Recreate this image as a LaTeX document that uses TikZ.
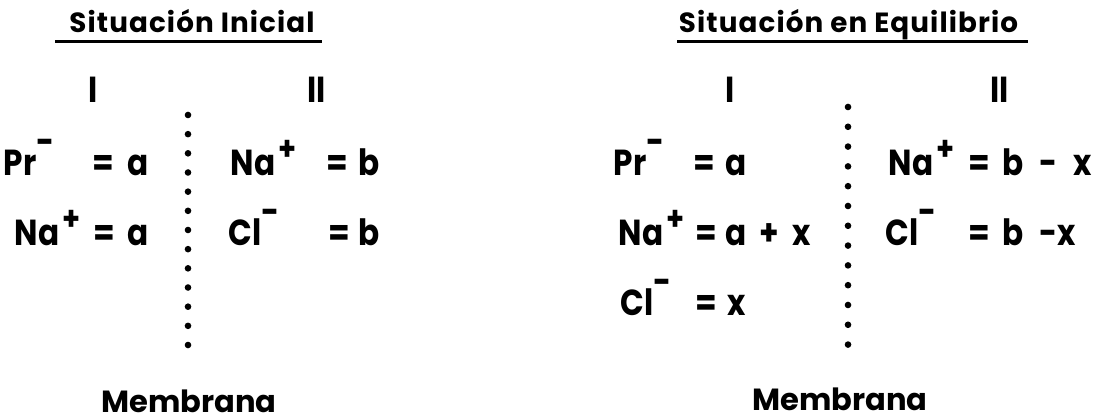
\documentclass[tikz,border=0pt]{standalone}
\usepackage{fontspec}
\setmainfont{Poppins}
\usepackage{tikz}
\usetikzlibrary{positioning}
\newcommand{\ionp}{\hspace{0.3mm}\raisebox{0.42em}{\fontsize{9.5}{9.5}\selectfont +}}
\newcommand{\ionm}{\raisebox{0.6em}{-}}

\begin{document}
\begin{tikzpicture}[x=1cm, y=1cm,
  ttl/.style={font=\fontsize{7.9}{10}\selectfont\bfseries\addfontfeatures{LetterSpace=4}, anchor=base, inner sep=0pt},
  ion/.style={font=\fontsize{10.3}{12}\selectfont\bfseries\addfontfeatures{FakeStretch=0.86}, anchor=base west, inner sep=0pt},
  memb/.style={font=\fontsize{8.7}{11}\selectfont\bfseries, anchor=base, inner sep=0pt},
  uline/.style={line width=0.9pt}]
\useasboundingbox (0,0) rectangle (11.18,4.20);
% situacion inicial
\node[ttl] (ini-title) at (1.92,3.87) {Situación Inicial};
\draw[uline] (0.55,3.785) -- (3.22,3.785);
\node[ion] (ini-I) at (0.88,3.17) {I};
\node[ion] (ini-II) at (3.07,3.17) {II};
\node[ion] (ini-pr) at (0.03,2.44) {Pr\ionm};
\node[ion] (ini-pr-eq) at (0.92,2.44) {=};
\node[ion] (ini-pr-val) at (1.27,2.44) {a};
\node[ion] (ini-na) at (0.14,1.74) {Na\ionp};
\node[ion] (ini-na-eq) at (0.93,1.74) {=};
\node[ion] (ini-na-val) at (1.27,1.74) {a};
\node[ion] (ini-na2) at (2.30,2.44) {Na\ionp};
\node[ion] (ini-na2-eq) at (3.26,2.44) {=};
\node[ion] (ini-na2-val) at (3.58,2.44) {b};
\node[ion] (ini-cl) at (2.28,1.74) {Cl\ionm};
\node[ion] (ini-cl-eq) at (3.28,1.74) {=};
\node[ion] (ini-cl-val) at (3.58,1.74) {b};
\foreach \k in {0,...,12}
  \fill (1.88,{3.05-\k*0.1917}) circle (0.033);
\node[memb] (ini-memb) at (1.89,0.07) {Membrana};
% situacion en equilibrio
\node[ttl] (eq-title) at (8.485,3.87) {Situación en Equilibrio};
\draw[uline] (6.77,3.785) -- (10.28,3.785);
\node[ion] (eq-I) at (7.25,3.17) {I};
\node[ion] (eq-II) at (9.90,3.17) {II};
\node[ion] (eq-pr) at (6.13,2.44) {Pr\ionm};
\node[ion] (eq-pr-eq) at (6.93,2.44) {=};
\node[ion] (eq-pr-val) at (7.25,2.44) {a};
\node[ion] (eq-na) at (6.18,1.74) {Na\ionp};
\node[ion] (eq-na-eq) at (6.95,1.74) {=};
\node[ion] (eq-na-val) at (7.25,1.74) {a\hspace{1.3mm}+\hspace{1.3mm}x};
\node[ion] (eq-cl) at (6.20,1.04) {Cl\ionm};
\node[ion] (eq-cl-eq) at (6.95,1.04) {=};
\node[ion] (eq-cl-val) at (7.27,1.04) {x};
\node[ion] (eq-na2) at (8.88,2.44) {Na\ionp};
\node[ion] (eq-na2-eq) at (9.68,2.44) {=};
\node[ion] (eq-na2-val) at (10.02,2.44) {b\hspace{1.6mm}-\hspace{1.6mm}x};
\node[ion] (eq-cl2) at (8.85,1.74) {Cl\ionm};
\node[ion] (eq-cl2-eq) at (9.68,1.74) {=};
\node[ion] (eq-cl2-val) at (10.02,1.74) {b\hspace{1.6mm}-x};
\foreach \k in {0,...,12}
  \fill (8.48,{3.13-\k*0.198}) circle (0.033);
\node[memb] (eq-memb) at (8.40,0.09) {Membrana};
\end{tikzpicture}
\end{document}
